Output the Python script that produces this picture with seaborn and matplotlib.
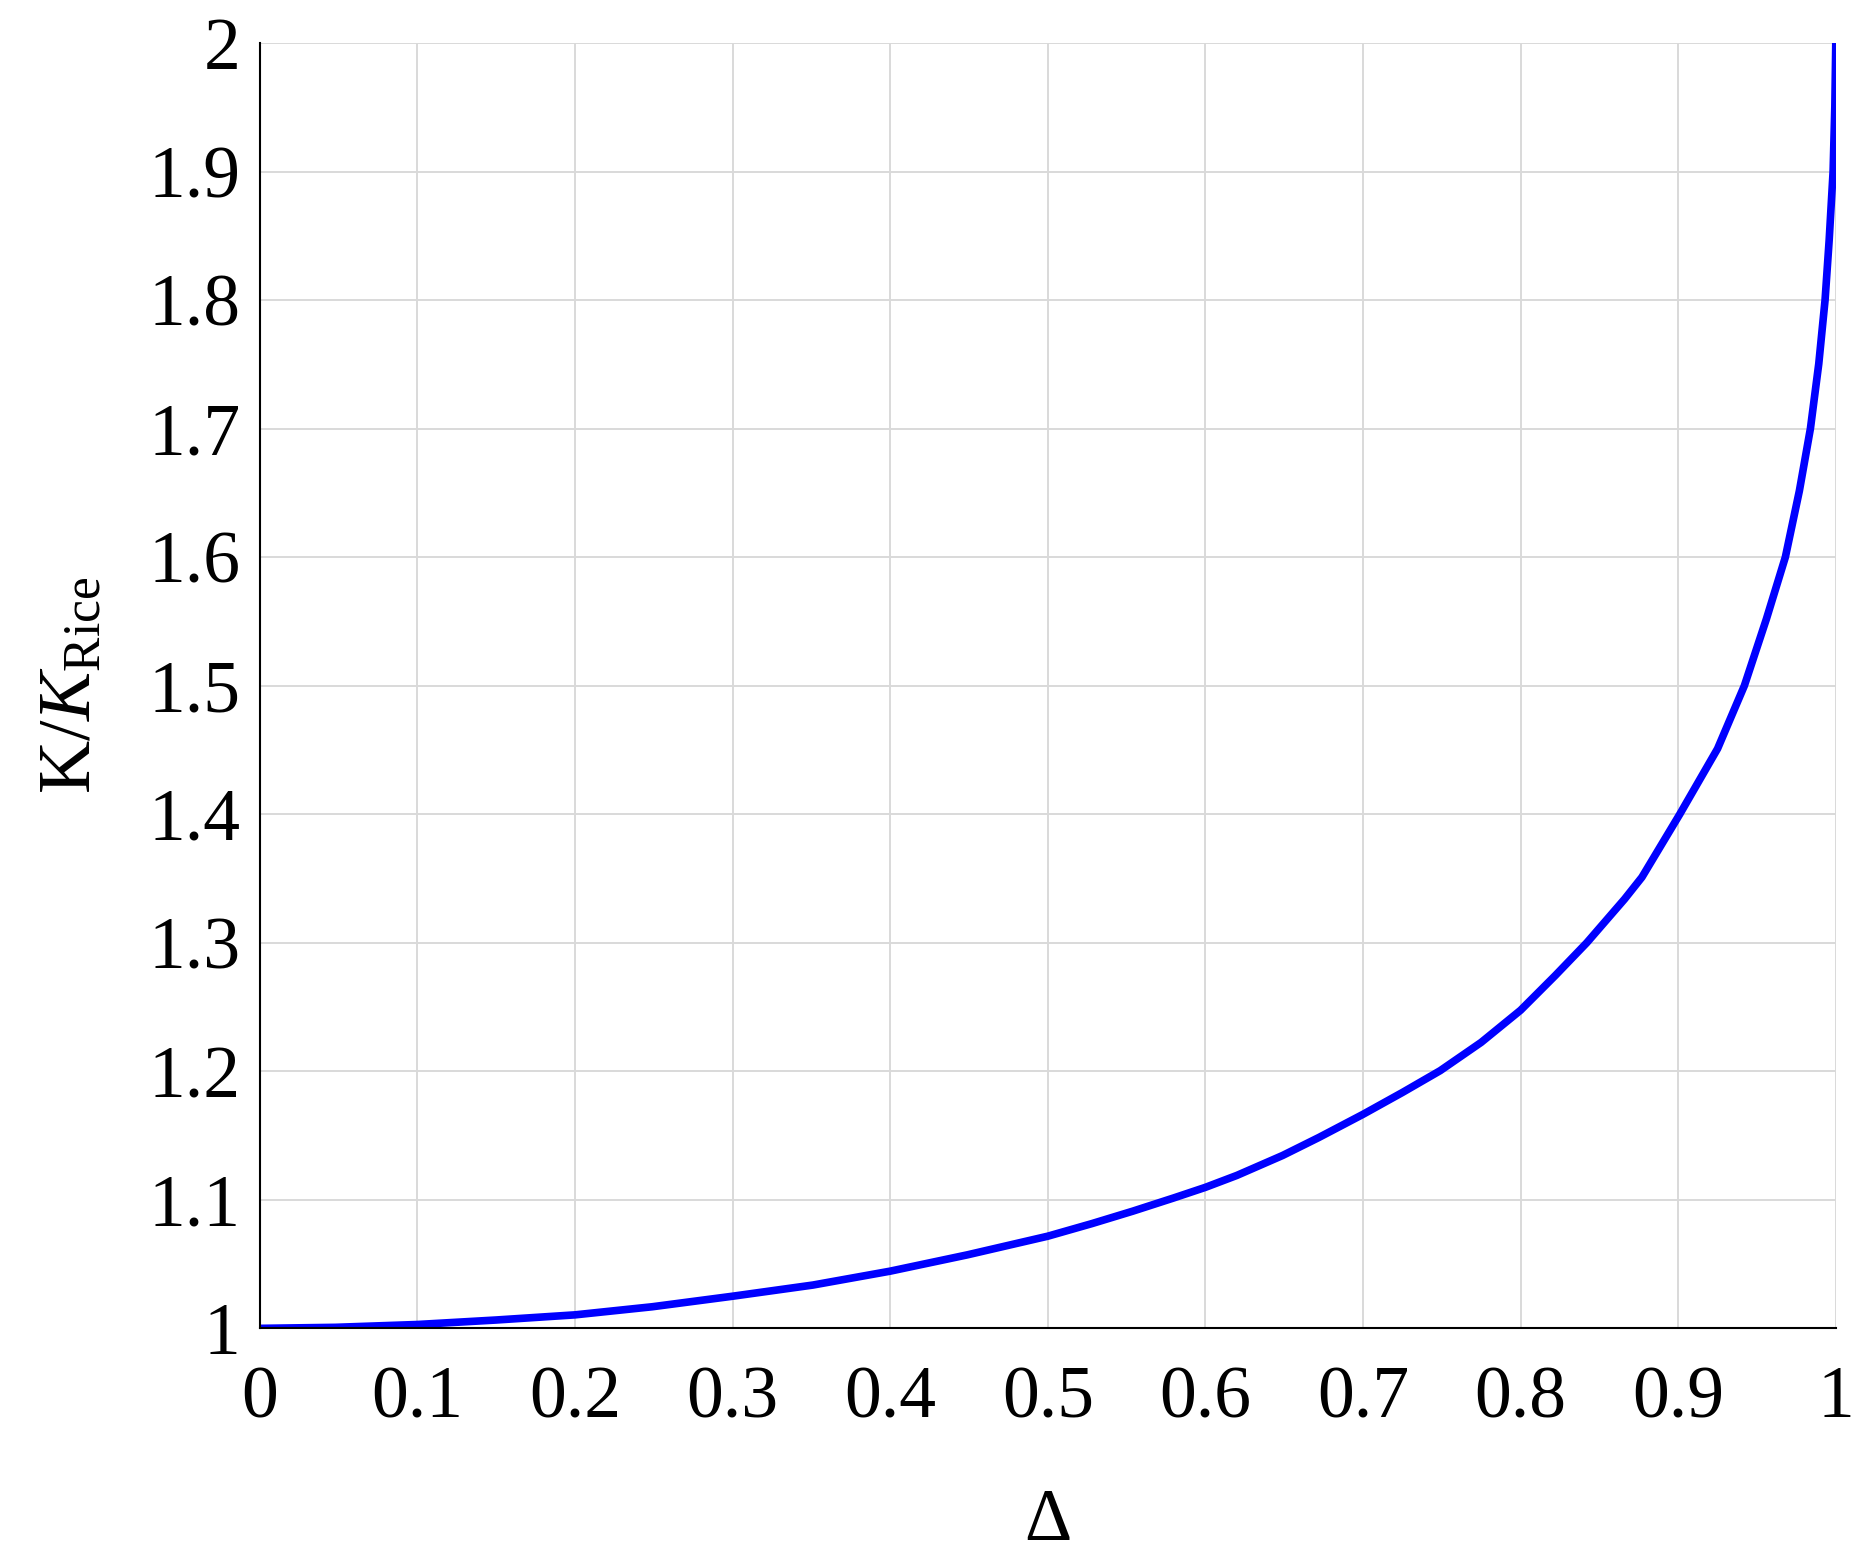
import matplotlib
matplotlib.use("Agg")
import matplotlib.pyplot as plt
import pandas as pd
import seaborn as sns

# values
delta = [0.0, 0.048, 0.1, 0.15, 0.2, 0.249, 0.3, 0.351, 0.4, 0.449, 0.5, 0.528,
         0.554, 0.58, 0.6, 0.62, 0.649, 0.672, 0.7, 0.725, 0.749, 0.775, 0.8,
         0.822, 0.842, 0.866, 0.877, 0.901, 0.925, 0.942, 0.956, 0.968,
         0.9769, 0.9839, 0.9892, 0.9932, 0.9958, 0.9983, 0.9994, 1.0]
k_ratio = [1.0, 1.0008, 1.003, 1.0065, 1.0105, 1.0168, 1.025, 1.0337, 1.0445, 1.0572,
           1.0717, 1.0815, 1.0912, 1.1015, 1.1097, 1.119, 1.1345, 1.1485, 1.1665,
           1.1835, 1.2005, 1.2225, 1.2475, 1.2745, 1.3, 1.334, 1.351, 1.4, 1.451,
           1.5, 1.552, 1.6, 1.6516, 1.7, 1.7504, 1.8, 1.8466, 1.9, 1.9506, 2.0]

xticks = [0, 0.1, 0.2, 0.3, 0.4, 0.5, 0.6, 0.7, 0.8, 0.9, 1]
xtick_labels = ['0', '0.1', '0.2', '0.3', '0.4', '0.5', '0.6', '0.7', '0.8', '0.9', '1']
yticks = [1, 1.1, 1.2, 1.3, 1.4, 1.5, 1.6, 1.7, 1.8, 1.9, 2]
ytick_labels = ['1', '1.1', '1.2', '1.3', '1.4', '1.5', '1.6', '1.7', '1.8', '1.9', '2']

df = pd.DataFrame({'delta': delta, 'k': k_ratio})

sns.set_style('whitegrid')
plt.rcParams['font.family'] = ['Liberation Serif', 'DejaVu Serif']
plt.rcParams['mathtext.fontset'] = 'custom'
plt.rcParams['mathtext.rm'] = 'Liberation Serif'
plt.rcParams['mathtext.it'] = 'Liberation Serif:italic'
plt.rcParams['text.color'] = 'black'
plt.rcParams['axes.labelcolor'] = 'black'

fig = plt.figure(figsize=(18.7, 15.54), dpi=100)
ax = fig.add_axes([0.1389, 0.1452, 0.9817 - 0.1389, 0.9723 - 0.1452])

sns.lineplot(data=df, x='delta', y='k', color='#0000ff', linewidth=5.5, ax=ax)

ax.set_xlim(0, 1)
ax.set_ylim(1, 2)
ax.set_xticks(xticks)
ax.set_xticklabels(xtick_labels)
ax.set_yticks(yticks)
ax.set_yticklabels(ytick_labels)

ax.grid(True, color='#d9d9d9', linewidth=1.4)
for s in ['top', 'right']:
    ax.spines[s].set_visible(False)
for s in ['left', 'bottom']:
    ax.spines[s].set_color('black')
    ax.spines[s].set_linewidth(1.5)

ax.tick_params(axis='both', direction='in', length=16, width=1.2, color='black',
               labelsize=53, labelcolor='black')
ax.tick_params(axis='x', pad=27)
ax.tick_params(axis='y', pad=14)

ax.set_xlabel('Δ', fontsize=53, labelpad=40, color='black')
ax.set_ylabel(r'K/$K_{\mathrm{Rice}}$', fontsize=53, labelpad=30, color='black')

fig.savefig('out.png', dpi=100, facecolor='white')
